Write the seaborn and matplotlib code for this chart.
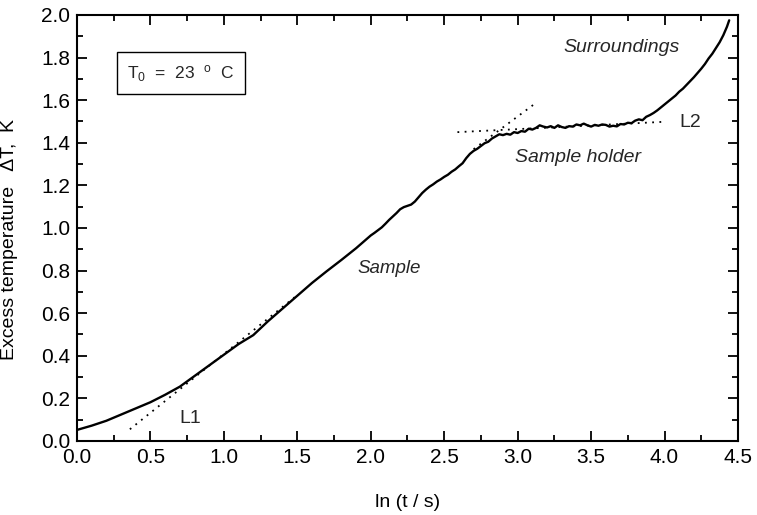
import matplotlib
matplotlib.use("Agg")
import matplotlib.pyplot as plt
import seaborn as sns
import pandas as pd
from matplotlib.ticker import MultipleLocator
from matplotlib.patches import Rectangle

# ---- data ----
ln_t = [0.00, 0.10, 0.20, 0.30, 0.40, 0.50, 0.60, 0.70, 0.80, 0.90,
        1.00, 1.10, 1.20, 1.30, 1.40, 1.50, 1.60, 1.70, 1.80, 1.90,
        2.000, 2.025, 2.050, 2.075, 2.100, 2.125, 2.150, 2.175, 2.200, 2.225,
        2.250, 2.275, 2.300, 2.325, 2.350, 2.375, 2.400, 2.425, 2.450, 2.475,
        2.500, 2.525, 2.550, 2.575, 2.600, 2.625, 2.650, 2.675, 2.700, 2.725,
        2.750, 2.775, 2.800, 2.825, 2.850, 2.875, 2.900, 2.925, 2.950, 2.975,
        3.000, 3.025, 3.050, 3.075, 3.100, 3.125, 3.150, 3.175, 3.200, 3.225,
        3.250, 3.275, 3.300, 3.325, 3.350, 3.375, 3.400, 3.425, 3.450, 3.475,
        3.500, 3.525, 3.550, 3.575, 3.600, 3.625, 3.650, 3.675, 3.700, 3.725,
        3.750, 3.775, 3.800, 3.825, 3.850, 3.875, 3.900, 3.925, 3.950, 3.975,
        4.000, 4.025, 4.050, 4.075, 4.100, 4.125, 4.150, 4.175, 4.200, 4.225,
        4.250, 4.275, 4.300, 4.325, 4.350, 4.375, 4.400, 4.425, 4.440]
delta_T = [0.052, 0.072, 0.095, 0.124, 0.153, 0.182, 0.217, 0.255, 0.305, 0.355,
           0.405, 0.455, 0.497, 0.562, 0.622, 0.682, 0.742, 0.797, 0.850, 0.905,
           0.965, 0.977, 0.990, 1.003, 1.020, 1.038, 1.054, 1.070, 1.088, 1.098,
           1.104, 1.110, 1.124, 1.144, 1.164, 1.180, 1.194, 1.205, 1.218, 1.228,
           1.240, 1.250, 1.264, 1.275, 1.290, 1.304, 1.328, 1.348, 1.362, 1.372,
           1.385, 1.398, 1.405, 1.420, 1.430, 1.440, 1.436, 1.442, 1.438, 1.450,
           1.446, 1.455, 1.452, 1.466, 1.462, 1.470, 1.482, 1.476, 1.472, 1.478,
           1.470, 1.482, 1.474, 1.470, 1.478, 1.476, 1.486, 1.482, 1.490, 1.482,
           1.476, 1.484, 1.480, 1.486, 1.484, 1.476, 1.480, 1.477, 1.488, 1.486,
           1.494, 1.492, 1.504, 1.510, 1.506, 1.522, 1.530, 1.540, 1.552, 1.566,
           1.580, 1.594, 1.608, 1.622, 1.640, 1.654, 1.672, 1.690, 1.708, 1.728,
           1.748, 1.770, 1.796, 1.818, 1.845, 1.872, 1.905, 1.945, 1.975]

# dotted tangent lines (end points)
L1_x = [0.36, 1.50]
L1_y = [0.055, 0.685]
steep_x = [2.70, 3.12]
steep_y = [1.370, 1.585]
L2_x = [2.59, 4.01]
L2_y = [1.450, 1.499]

x_ticks = [0.0, 0.5, 1.0, 1.5, 2.0, 2.5, 3.0, 3.5, 4.0, 4.5]
y_ticks = [0.0, 0.2, 0.4, 0.6, 0.8, 1.0, 1.2, 1.4, 1.6, 1.8, 2.0]

sns.set_theme(style="ticks")
plt.rcParams['font.family'] = ['Liberation Sans', 'DejaVu Sans']
plt.rcParams['mathtext.fontset'] = 'custom'
plt.rcParams['mathtext.rm'] = 'Liberation Sans'
plt.rcParams['mathtext.it'] = 'Liberation Sans:italic'

fig = plt.figure(figsize=(7.57, 5.15), dpi=100)
ax = fig.add_axes([0.1017, 0.1437, 0.8732, 0.8272])

df = pd.DataFrame({"x": ln_t, "y": delta_T})
sns.lineplot(data=df, x="x", y="y", ax=ax, color="black", lw=1.7, sort=False)
for xs, ys in [(L1_x, L1_y), (steep_x, steep_y), (L2_x, L2_y)]:
    sns.lineplot(x=xs, y=ys, ax=ax, color="black", lw=1.3, linestyle=(0, (1, 3)))

ax.set_xlim(0, 4.5)
ax.set_ylim(0, 2.0)
ax.set_xticks(x_ticks)
ax.set_yticks(y_ticks)
ax.set_xticklabels([f"{v:.1f}" for v in x_ticks])
ax.set_yticklabels([f"{v:.1f}" for v in y_ticks])
ax.xaxis.set_minor_locator(MultipleLocator(0.25))
ax.yaxis.set_minor_locator(MultipleLocator(0.1))
ax.tick_params(which="both", direction="in", top=True, right=True, colors="black",
               labelsize=15, width=1.3)
ax.tick_params(which="major", length=7, pad=5)
ax.tick_params(which="minor", length=4)
for s in ax.spines.values():
    s.set_linewidth(1.5)
    s.set_color("black")

ax.set_xlabel("ln (t / s)", fontsize=14, color="black", va="top")
ax.set_ylabel("Excess temperature   \u0394T,  K", fontsize=14, color="black")
ax.xaxis.set_label_coords(0.5, -(494 - 441) / 426)
ax.yaxis.set_label_coords(-(77 - 18) / 661, 0.472)

ax.text(0.70, 0.085, "L1", fontsize=14)
ax.text(4.10, 1.474, "L2", fontsize=14)
ax.text(1.91, 0.79, "Sample", fontsize=13.5, style="italic")
ax.text(3.41, 1.31, "Sample holder", fontsize=14, style="italic", ha="center")
ax.text(3.71, 1.826, "Surroundings", fontsize=14, style="italic", ha="center")
ax.add_patch(Rectangle((0.272, 1.629), 0.872, 0.197, fill=False, ec="black", lw=1.0))
ax.text(0.708, 1.725, r"T$_0$  =  23  $^\mathrm{o}$  C", fontsize=12.5,
        ha="center", va="center")

fig.savefig("out.png", dpi=100)
